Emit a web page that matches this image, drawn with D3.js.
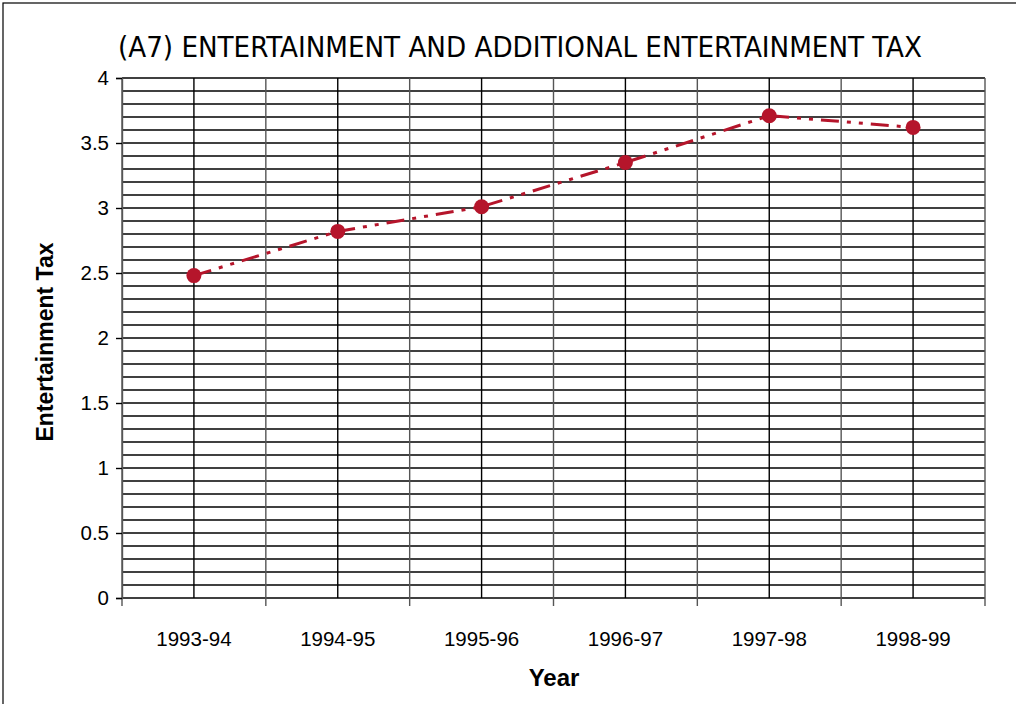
<!DOCTYPE html>
<html>
<head>
<meta charset="utf-8">
<script src="https://cdn.jsdelivr.net/npm/d3@7"></script>
<style>
  body { margin: 0; background: #fff; }
</style>
</head>
<body>
<div id="app"></div>
<script>
var years = ["1993-94", "1994-95", "1995-96", "1996-97", "1997-98", "1998-99"];
var taxValues = [2.48, 2.82, 3.01, 3.35, 3.71, 3.62];
var yTickLabels = [0, 0.5, 1, 1.5, 2, 2.5, 3, 3.5, 4];

var W = 1016;
var H = 704;

var plotLeft = 122;
var plotRight = 985;
var plotTop = 78;
var plotBottom = 598;

var lineColor = "#b5152b";

var svg = d3.select("#app")
    .append("svg")
    .attr("width", W)
    .attr("height", H);

//FRAME
svg.append("rect")
    .attr("x", 3)
    .attr("y", 3)
    .attr("width", W + 10)
    .attr("height", H + 10)
    .style("fill", "none")
    .style("stroke", "#000")
    .style("stroke-width", 1.2);

//TITLE
svg.append("text")
    .attr("x", 520)
    .attr("y", 57)
    .attr("text-anchor", "middle")
    .attr("textLength", 804)
    .attr("lengthAdjust", "spacingAndGlyphs")
    .style("font-family", "'DejaVu Sans Condensed', 'DejaVu Sans', sans-serif")
    .style("font-size", "28px")
    .text("(A7) ENTERTAINMENT AND ADDITIONAL ENTERTAINMENT TAX");

var x = d3.scaleBand()
    .domain(years)
    .range([plotLeft, plotRight])
    .padding(0);

var y = d3.scaleLinear()
    .domain([0, 4])
    .range([plotBottom, plotTop]);

//GRID - horizontal every 0.1
var minorTicks = d3.range(0, 41).map(function (i) { return i / 10; });
svg.append("g")
    .selectAll("line")
    .data(minorTicks)
    .enter()
    .append("line")
    .attr("x1", plotLeft)
    .attr("x2", plotRight)
    .attr("y1", function (d) { return y(d); })
    .attr("y2", function (d) { return y(d); })
    .style("stroke", "#000")
    .style("stroke-width", 1.4);

//GRID - vertical at band edges and centres
var vLines = [];
years.forEach(function (yr) {
    vLines.push({ pos: x(yr), edge: true });
    vLines.push({ pos: x(yr) + x.bandwidth() / 2, edge: false });
});
vLines.push({ pos: plotRight, edge: true });

svg.append("g")
    .selectAll("line")
    .data(vLines)
    .enter()
    .append("line")
    .attr("x1", function (d) { return d.pos; })
    .attr("x2", function (d) { return d.pos; })
    .attr("y1", plotTop)
    .attr("y2", function (d) { return d.edge ? plotBottom + 8 : plotBottom; })
    .style("stroke", function (d) { return d.edge ? "#555" : "#000"; })
    .style("stroke-width", 1.4);

//Y AXIS
var yAxis = d3.axisLeft(y)
    .tickValues(yTickLabels)
    .tickSize(6)
    .tickPadding(7)
    .tickFormat(d3.format("~g"));

var yG = svg.append("g")
    .attr("transform", "translate(" + plotLeft + ",0)")
    .call(yAxis);
yG.select(".domain").style("stroke", "#555").style("stroke-width", 1.4);
yG.selectAll(".tick line").style("stroke", "#000").style("stroke-width", 1.4);
yG.selectAll("text")
    .style("font-family", "'Liberation Sans', Arial, sans-serif")
    .style("font-size", "20.5px")
    .style("fill", "#000");

//X LABELS
svg.append("g")
    .selectAll("text")
    .data(years)
    .enter()
    .append("text")
    .attr("x", function (d) { return x(d) + x.bandwidth() / 2; })
    .attr("y", 646)
    .attr("text-anchor", "middle")
    .style("font-family", "'Liberation Sans', Arial, sans-serif")
    .style("font-size", "20.5px")
    .text(function (d) { return d; });

//AXIS TITLES
svg.append("text")
    .attr("x", 554)
    .attr("y", 686)
    .attr("text-anchor", "middle")
    .style("font-family", "'Liberation Sans', Arial, sans-serif")
    .style("font-size", "24px")
    .style("font-weight", "bold")
    .text("Year");

svg.append("text")
    .attr("transform", "translate(53,342) rotate(-90)")
    .attr("text-anchor", "middle")
    .style("font-family", "'Liberation Sans', Arial, sans-serif")
    .style("font-size", "23px")
    .style("font-weight", "bold")
    .text("Entertainment Tax");

//LINE
var pts = years.map(function (yr, i) { return { year: yr, value: taxValues[i] }; });

var line = d3.line()
    .x(function (d) { return x(d.year) + x.bandwidth() / 2; })
    .y(function (d) { return y(d.value); });

svg.append("path")
    .datum(pts)
    .attr("d", line)
    .style("fill", "none")
    .style("stroke", lineColor)
    .style("stroke-width", 3)
    .style("stroke-dasharray", "18,8,4,8,4,8");

svg.append("g")
    .selectAll("circle")
    .data(pts)
    .enter()
    .append("circle")
    .attr("cx", function (d) { return x(d.year) + x.bandwidth() / 2; })
    .attr("cy", function (d) { return y(d.value); })
    .attr("r", 7.5)
    .style("fill", lineColor);
</script>
</body>
</html>
